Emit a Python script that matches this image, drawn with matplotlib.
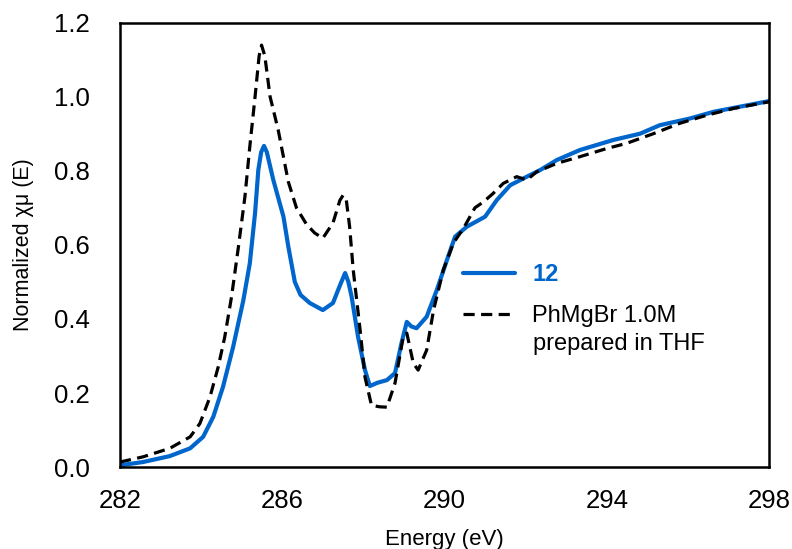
import matplotlib
matplotlib.use("Agg")
import matplotlib.pyplot as plt

plt.rcParams["font.family"] = ["Liberation Sans", "DejaVu Sans"]

# sample 12
energy_12 = [282.0, 282.57, 283.23, 283.73, 284.05, 284.3, 284.54, 284.79, 285.04, 285.2,
             285.33, 285.41, 285.48, 285.55, 285.62, 285.78, 286.03, 286.15, 286.31, 286.45,
             286.68, 287.0, 287.25, 287.42, 287.55, 287.63, 287.71, 287.87, 288.04, 288.16,
             288.35, 288.58, 288.78, 288.94, 289.07, 289.18, 289.31, 289.56, 289.81, 290.06,
             290.26, 290.55, 291.0, 291.29, 291.62, 292.03, 292.36, 292.77, 293.34, 294.16,
             294.82, 295.31, 296.05, 296.63, 297.29, 298.0]
mu_12 = [0.005, 0.014, 0.030, 0.051, 0.082, 0.136, 0.217, 0.325, 0.45, 0.55,
         0.686, 0.802, 0.85, 0.867, 0.85, 0.775, 0.676, 0.595, 0.50, 0.465,
         0.443, 0.424, 0.443, 0.49, 0.524, 0.50, 0.46, 0.351, 0.262, 0.219,
         0.228, 0.235, 0.254, 0.335, 0.392, 0.38, 0.375, 0.406, 0.478, 0.559,
         0.622, 0.649, 0.676, 0.721, 0.761, 0.784, 0.802, 0.829, 0.856, 0.883,
         0.900, 0.923, 0.941, 0.959, 0.973, 0.988]

# PhMgBr 1.0M in THF
energy_ref = [282.0, 282.57, 283.23, 283.73, 283.97, 284.22, 284.42, 284.58, 284.75, 284.92,
              285.08, 285.2, 285.33, 285.43, 285.49, 285.57, 285.7, 285.9, 286.15, 286.35,
              286.6, 286.8, 287.0, 287.25, 287.42, 287.5, 287.58, 287.66, 287.75, 287.92,
              288.04, 288.2, 288.4, 288.58, 288.78, 288.98, 289.07, 289.23, 289.35, 289.56,
              289.73, 289.97, 290.22, 290.47, 290.75, 290.96, 291.2, 291.45, 291.78, 292.03,
              292.27, 292.77, 293.34, 294.0, 294.49, 295.15, 295.8, 296.47, 297.12, 298.0]
mu_ref = [0.014, 0.028, 0.051, 0.082, 0.118, 0.19, 0.27, 0.35, 0.46, 0.595,
          0.73, 0.865, 1.0, 1.11, 1.139, 1.11, 1.0, 0.91, 0.77, 0.70,
          0.655, 0.632, 0.618, 0.659, 0.72, 0.734, 0.72, 0.65, 0.532, 0.37,
          0.243, 0.167, 0.163, 0.162, 0.227, 0.351, 0.362, 0.281, 0.262, 0.316,
          0.424, 0.532, 0.605, 0.645, 0.70, 0.716, 0.739, 0.766, 0.784, 0.775,
          0.797, 0.82, 0.838, 0.86, 0.874, 0.90, 0.928, 0.95, 0.968, 0.986]

x_ticks = [282, 286, 290, 294, 298]
y_ticks = [0.0, 0.2, 0.4, 0.6, 0.8, 1.0, 1.2]

fig = plt.figure(figsize=(7.92, 5.49), dpi=100)
ax = fig.add_axes([0.1515, 0.149, 0.8195, 0.81])

ax.plot(energy_12, mu_12, color="#0066CC", lw=3.0, label="12",
        solid_capstyle="round", solid_joinstyle="round")
ax.plot(energy_ref, mu_ref, color="black", lw=2.3, dashes=(3.5, 2),
        dash_joinstyle="round", label="PhMgBr 1.0M")

ax.set_xlim(282, 298)
ax.set_ylim(0, 1.2)
ax.set_xticks(x_ticks)
ax.set_yticks(y_ticks)
ax.set_yticklabels([f"{v:.1f}" for v in y_ticks])
ax.tick_params(length=0, labelsize=18.5)
ax.tick_params(axis="x", pad=16)
ax.tick_params(axis="y", pad=22)
for s in ax.spines.values():
    s.set_linewidth(1.8)

ax.set_xlabel("Energy (eV)", fontsize=16, labelpad=11)
ax.set_ylabel("Normalized χμ (E)", fontsize=15.5, labelpad=14)

leg = ax.legend(loc="upper left", bbox_to_anchor=(0.528, 0.459), frameon=False,
                borderpad=0, borderaxespad=0, fontsize=17,
                handlelength=2.2, handletextpad=0.75, labelspacing=0.8)
t12 = leg.get_texts()[0]
t12.set_color("#0066CC")
t12.set_fontweight("bold")
ax.text(0.636, 0.277, "prepared in THF", transform=ax.transAxes,
        fontsize=17, va="center", ha="left")

fig.savefig("out.png", dpi=100)
